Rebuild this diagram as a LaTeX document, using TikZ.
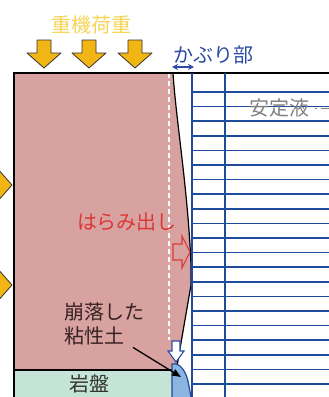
\documentclass[tikz,border=0pt]{standalone}
\usepackage{fontspec}
\setmainfont{Noto Sans CJK JP}
\usetikzlibrary{arrows.meta}

\definecolor{soil}{RGB}{215,162,160}
\definecolor{rock}{RGB}{196,228,214}
\definecolor{load}{RGB}{242,182,20}
\definecolor{loadtext}{RGB}{246,212,86}
\definecolor{casing}{RGB}{30,75,155}
\definecolor{cover}{RGB}{45,75,165}
\definecolor{bulge}{RGB}{220,55,55}
\definecolor{slumpfill}{RGB}{140,180,225}
\definecolor{claytext}{RGB}{55,35,35}

\begin{document}
\begin{tikzpicture}[x=1pt, y=-1pt,
		jtext/.style={font=\fontsize{20}{24}\selectfont, inner sep=0pt},
		loadarrow/.style={draw=black!80, fill=load, line width=0.8pt, line join=round},
		ground/.style={draw=black, line width=1.4pt},
		grid/.style={draw=casing, line width=1.6pt},
		hollow/.style={line width=1.1pt, line join=miter},
		leader/.style={draw=black, line width=1.3pt, -{Triangle[length=9pt, width=7pt]}},
	]
	\useasboundingbox (0,0) rectangle (329,397);
	\clip (0,0) rectangle (329,397);
	\fill[white] (0,0) rectangle (329,397);

	% soil mass and bedrock
	\fill[soil] (15,73) -- (173,73) .. controls (176,120) and (188,190) .. (191,265)
		-- (191,285) -- (176,372) -- (15,372) -- cycle;
	\fill[rock] (15,370) rectangle (172,397);
	\draw[white, line width=1.2pt, dash pattern=on 5pt off 3pt] (169,73) -- (169,340);

	% trench wall
	\draw[black, line width=1.2pt] (173,73) .. controls (176,120) and (188,190) .. (191,265)
		-- (191,285) -- (176,372);
	\draw[ground] (15,370) -- (172,370);
	\draw[ground] (14,397) -- (14,73) -- (329,73);

	% collapsed clay at the toe
	\filldraw[fill=slumpfill, draw=casing, line width=1.2pt] (172,397) -- (172,364)
		.. controls (180,362) and (186,372) .. (188,381) -- (191,397);

	% slurry panels
	\foreach \k in {0,...,20}
		\draw[grid] (192,{92+14.6*\k}) -- (329,{92+14.6*\k});
	\draw[grid] (192,73) -- (192,397);
	\draw[grid] (225,73) -- (225,397);

	% loads
	\foreach \x in {44,89,135}
		\draw[loadarrow] (\x-7,40) -- (\x+7,40) -- (\x+7,53) -- (\x+17,53) -- (\x,68)
			-- (\x-17,53) -- (\x-7,53) -- cycle;
	\foreach \y in {185,285}
		\draw[loadarrow] (-20,\y-7) -- (-3,\y-7) -- (-3,\y-17) -- (12,\y) -- (-3,\y+17)
			-- (-3,\y+7) -- (-20,\y+7) -- cycle;

	% bulge and slump marks
	\draw[hollow, bulge] (173,244) -- (182,244) -- (182,236) -- (190,252) -- (182,268)
		-- (182,260) -- (173,260) -- cycle;
	\filldraw[hollow, fill=white, draw=cover] (172,341) -- (180,341) -- (180,351)
		-- (184,351) -- (176,362) -- (168,351) -- (172,351) -- cycle;

	% labels
	\node (load)    [jtext, text=loadtext] at (92,25)  {重機荷重};
	\node (cover)   [jtext, text=cover]    at (213,55) {かぶり部};
	\node (fluid)   [jtext, text=gray]     at (279,108) {安定液};
	\node (bulge)   [jtext, text=bulge]    at (127,222) {はらみ出し};
	\node (clay)    [jtext, text=claytext, align=left] at (104,324) {崩落した\\粘性土};
	\node (rocktag) [jtext, text=black!80] at (89,384) {岩盤};

	\coordinate (coverL) at (172,67);
	\coordinate (coverR) at (194,67);
	\coordinate (slump)  at (181,377);
	\coordinate (fluidend) at (329,108);

	\draw[cover, line width=1.3pt, {Stealth[length=6pt, width=6pt]}-{Stealth[length=6pt, width=6pt]}]
		(coverL) -- (coverR);
	\draw[gray, line width=1pt, dash pattern=on 0pt off 6pt on 1.5pt off 4pt on 20pt]
		(fluid.east) -- (fluidend);
	\draw[leader] ([xshift=29pt, yshift=-2pt]clay.south) -- (slump);
\end{tikzpicture}
\end{document}
